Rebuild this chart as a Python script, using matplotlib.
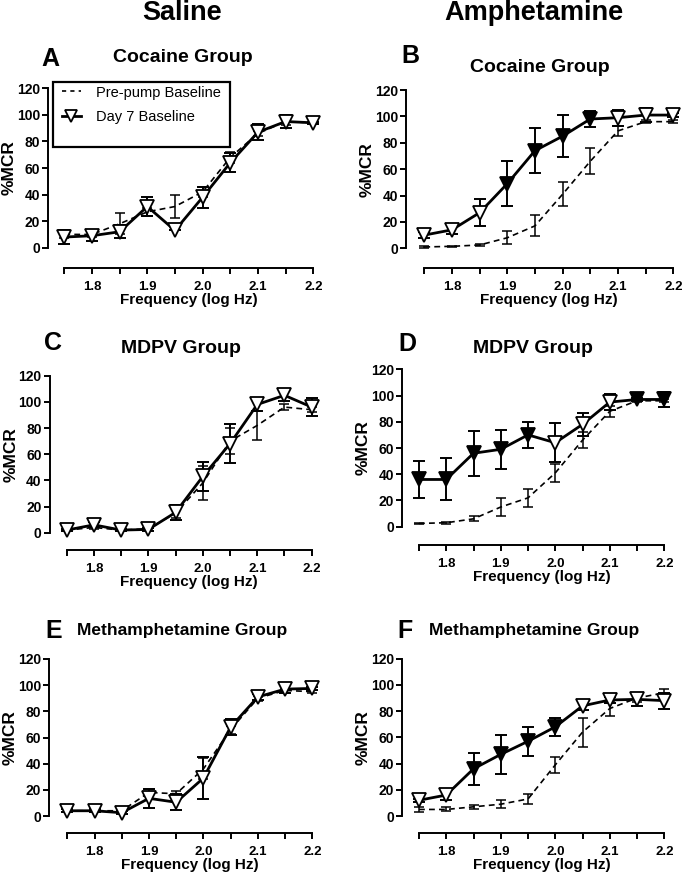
import matplotlib
matplotlib.use("Agg")
import matplotlib.pyplot as plt
from matplotlib.lines import Line2D
from matplotlib.patches import Rectangle
import numpy as np

plt.rcParams['font.family'] = ['Liberation Sans', 'DejaVu Sans']

# ---------------- data ----------------
freq = [1.75, 1.80, 1.85, 1.90, 1.95, 2.00, 2.05, 2.10, 2.15, 2.20]
xtick_labels = ["", "1.8", "", "1.9", "", "2.0", "", "2.1", "", "2.2"]
yticks = [0, 20, 40, 60, 80, 100, 120]

A_pre = [10, 10, 18, 27, 31, 42, 68, 86, 95, 94]
A_pre_err = [3, 2, 8, 3, 9, 4, 4, 2, 3, 1]
A_d7 = [8, 9, 12, 31, 13, 38, 64, 87, 95, 94]
A_d7_err = [5, 4, 5, 7, 0, 8, 7, 6, 5, 1]
A_sig = [0, 0, 0, 0, 0, 0, 0, 0, 0, 0]

B_pre = [1, 1.5, 2.5, 8, 17, 41, 66, 89, 96, 96]
B_pre_err = [0.5, 0.5, 0.5, 5, 8, 9, 10, 4, 1, 1]
B_d7 = [10, 14, 27, 49, 74, 85, 98, 99, 101, 101]
B_d7_err = [2, 3, 10, 17, 17, 16, 6, 6, 5, 1.5]
B_sig = [0, 0, 0, 1, 1, 1, 1, 0, 0, 0]

C_pre = [2, 4, 2, 3, 15, 38, 70, 82, 96, 94]
C_pre_err = [1, 1, 1, 1, 4, 13, 10, 11, 2, 2]
C_d7 = [2, 6, 2, 2.5, 15.5, 43, 68, 98, 105, 96]
C_d7_err = [1, 2, 1, 1, 6, 11, 15, 5, 4, 7]
C_sig = [0, 0, 0, 0, 0, 0, 0, 0, 0, 0]

D_pre = [2.5, 3, 6, 15, 22, 41, 66, 88, 96, 96]
D_pre_err = [0.5, 0.8, 2, 7, 7, 7, 6, 4, 1, 1]
D_d7 = [36, 36, 56, 59, 70, 64, 78, 95, 97, 97]
D_d7_err = [14, 16, 17, 15, 10, 15, 9, 6, 1, 6]
D_sig = [1, 1, 1, 1, 1, 0, 0, 0, 1, 1]

E_pre = [4, 4, 4, 18, 17, 36, 66, 90, 96, 95]
E_pre_err = [1, 1, 1, 3, 2, 8, 3, 2, 2, 1]
E_d7 = [4, 4, 2.5, 13.5, 10.5, 29, 68, 91, 97, 97.5]
E_d7_err = [1, 1, 1, 7.5, 6, 16, 6, 2, 3, 1]
E_sig = [0, 0, 0, 0, 0, 0, 0, 0, 0, 0]

F_pre = [5, 5, 7, 9, 13, 39, 64, 82, 90, 94]
F_pre_err = [2, 1.5, 1.5, 3, 4, 6, 11, 6, 3, 3]
F_d7 = [12, 16, 36, 47, 57, 68, 84, 88.5, 89, 88]
F_d7_err = [1, 4, 12, 15, 11, 7, 3, 2, 5, 6]
F_sig = [0, 0, 1, 1, 1, 1, 0, 0, 0, 0]

panel_letters = ["A", "B", "C", "D", "E", "F"]
panel_titles = ["Cocaine Group", "Cocaine Group", "MDPV Group", "MDPV Group",
                "Methamphetamine Group", "Methamphetamine Group"]
column_titles = ["Saline", "Amphetamine"]
legend_labels = ["Pre-pump Baseline", "Day 7 Baseline"]
ylabel = "%MCR"
xlabel = "Frequency (log Hz)"

series = [
    (A_pre, A_pre_err, A_d7, A_d7_err, A_sig),
    (B_pre, B_pre_err, B_d7, B_d7_err, B_sig),
    (C_pre, C_pre_err, C_d7, C_d7_err, C_sig),
    (D_pre, D_pre_err, D_d7, D_d7_err, D_sig),
    (E_pre, E_pre_err, E_d7, E_d7_err, E_sig),
    (F_pre, F_pre_err, F_d7, F_d7_err, F_sig),
]

# ---------------- layout (pixels) ----------------
W, H = 685, 877
fig = plt.figure(figsize=(W / 100, H / 100), dpi=100)

# left, right, top(y=120), bottom(y=0), left spine offset, bottom spine offset
boxes = [
    (64.3, 313.3, 88.3, 247.7, 16, 20),
    (424.3, 673.3, 90.0, 248.3, 18, 19.4),
    (66.7, 311.7, 375.7, 532.7, 16.7, 17.3),
    (419.0, 664.3, 369.3, 526.7, 16.7, 18.3),
    (67.3, 312.3, 659.0, 816.0, 18, 17.3),
    (419.0, 664.3, 658.7, 816.0, 16.7, 17.3),
]
title_pos = [(183, 57, 14), (540, 68, 14), (181, 348, 14), (533, 348, 14),
             (182, 631, 12.5), (534, 631, 12.5)]
letter_pos = [(50, 59), (410, 56), (53, 343), (407, 344), (54, 631), (405, 631)]

px2pt = 0.72

for i, (l, r, t, b, offl, offb) in enumerate(boxes):
    ax = fig.add_axes([l / W, 1 - b / H, (r - l) / W, (b - t) / H])
    pre, pre_err, d7, d7_err, sig = series[i]
    x = np.array(freq)
    d7a = np.array(d7)
    sigm = np.array(sig).astype(bool)

    ax.errorbar(freq, pre, yerr=pre_err, fmt='none', ecolor='black',
                elinewidth=1.1, capsize=3.5, capthick=1.1, clip_on=False, zorder=2)
    ax.plot(freq, pre, linestyle=(0, (3.5, 2.5)), color='black', lw=1.2,
            clip_on=False, zorder=2)
    ax.errorbar(freq, d7, yerr=d7_err, fmt='none', ecolor='black',
                elinewidth=1.4, capsize=4, capthick=1.4, clip_on=False, zorder=3)
    ax.plot(freq, d7, '-', color='black', lw=2.0, clip_on=False, zorder=3)
    ax.plot(x[~sigm], d7a[~sigm], 'v', ms=9.5, mfc='white', mec='black', mew=1.3,
            linestyle='none', clip_on=False, zorder=4)
    if sigm.any():
        ax.plot(x[sigm], d7a[sigm], 'v', ms=9.5, mfc='black', mec='black', mew=1.3,
                linestyle='none', clip_on=False, zorder=4)

    ax.set_xlim(1.75, 2.2)
    ax.set_ylim(0, 120)
    for s in ['top', 'right']:
        ax.spines[s].set_visible(False)
    ax.spines['left'].set_position(('outward', offl * px2pt))
    ax.spines['bottom'].set_position(('outward', offb * px2pt))
    ax.spines['left'].set_bounds(0, 120)
    ax.spines['bottom'].set_bounds(1.75, 2.2)
    ax.spines['left'].set_linewidth(1.4)
    ax.spines['bottom'].set_linewidth(1.4)
    ax.set_xticks(freq)
    ax.set_xticklabels(xtick_labels)
    ax.set_yticks(yticks)
    ax.tick_params(axis='both', direction='out', width=1.4, length=4.5, color='black')
    ax.tick_params(axis='x', labelsize=9.5, pad=5)
    ax.tick_params(axis='y', labelsize=10, pad=1.5)
    for lab in ax.get_xticklabels() + ax.get_yticklabels():
        lab.set_fontweight('bold')
    ax.patch.set_visible(False)

    # axis labels
    fig.text((l - offl - 39) / W, 1 - ((t + b) / 2) / H, ylabel, rotation=90,
             ha='center', va='center', fontsize=12.5, fontweight='bold')
    fig.text(((l + r) / 2) / W, 1 - (b + offb + 32) / H, xlabel,
             ha='center', va='center', fontsize=11, fontweight='bold')

    tx, ty, tfs = title_pos[i]
    fig.text(tx / W, 1 - ty / H, panel_titles[i], ha='center', va='center',
             fontsize=tfs, fontweight='bold')
    lx, ly = letter_pos[i]
    fig.text(lx / W, 1 - ly / H, panel_letters[i], ha='center', va='center',
             fontsize=18, fontweight='bold')

    if i == 0:
        handles = [Line2D([], [], color='black', lw=1.2, linestyle=(0, (2.5, 2.5))),
                   Line2D([], [], color='black', lw=2.0, marker='v', ms=9,
                          mfc='white', mec='black', mew=1.3)]
        fig.legend(handles, legend_labels, loc='upper left',
                   bbox_to_anchor=(62 / W, 1 - 85.5 / H), frameon=False,
                   fontsize=10.5, handlelength=1.3, handletextpad=1.0,
                   labelspacing=0.75, borderpad=0, borderaxespad=0)
        fig.patches.append(Rectangle((53 / W, 1 - 147.3 / H), (230 - 53) / W,
                                     (147.3 - 81.7) / H, transform=fig.transFigure,
                                     fill=False, edgecolor='black', lw=1.6,
                                     zorder=5))

fig.text(182 / W, 1 - 12.5 / H, column_titles[0], ha='center', va='center',
         fontsize=19.5, fontweight='bold')
fig.text(534 / W, 1 - 12.5 / H, column_titles[1], ha='center', va='center',
         fontsize=19.5, fontweight='bold')

fig.savefig("out.png", dpi=100)
